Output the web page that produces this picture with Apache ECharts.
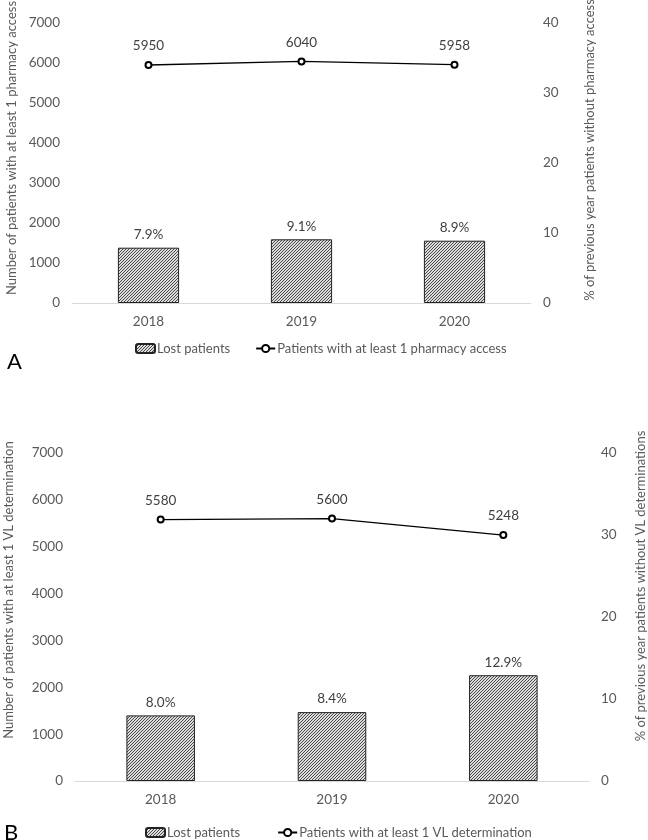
<!DOCTYPE html>
<html><head><meta charset="utf-8">
<script src="https://cdn.jsdelivr.net/npm/echarts@6/dist/echarts.min.js"></script>
<style>html,body{margin:0;padding:0;background:#fff}#c{width:648px;height:840px}</style>
</head><body><div id="c"></div>
<script>
const years = ['2018', '2019', '2020'];
const lostA = [7.9, 9.1, 8.9];
const pharmA = [5950, 6040, 5958];
const lostB = [8.0, 8.4, 12.9];
const vlB = [5580, 5600, 5248];
const leftTicks = [0, 7000, 1000];
const rightTicks = [0, 40, 10];
const nameLost = 'Lost patients';
const nameA = 'Patients with at least 1 pharmacy access';
const nameB = 'Patients with at least 1 VL determination';

function hatch() {
  const n = 3;
  const c = document.createElement('canvas');
  c.width = n; c.height = n;
  const g = c.getContext('2d');
  g.fillStyle = '#dcdcdc'; g.fillRect(0, 0, n, n);
  g.fillStyle = '#4a4a4a';
  for (let i = 0; i < n; i++) g.fillRect(i, n - 1 - i, 1, 1);
  return {image: c, repeat: 'repeat'};
}
const pat = hatch();
const FONT = 'Lato';
const TXT = '#595959';
const FS = 13.5;

function yLeft(gi) {
  return {type: 'value', gridIndex: gi, position: 'left', min: leftTicks[0], max: leftTicks[1], interval: leftTicks[2],
    axisLine: {show: false}, axisTick: {show: false}, splitLine: {show: false},
    axisLabel: {color: TXT, fontFamily: FONT, fontSize: FS, margin: 12, formatter: v => String(v)}};
}
function yRight(gi) {
  return {type: 'value', gridIndex: gi, position: 'right', min: rightTicks[0], max: rightTicks[1], interval: rightTicks[2],
    axisLine: {show: false}, axisTick: {show: false}, splitLine: {show: false},
    axisLabel: {color: TXT, fontFamily: FONT, fontSize: FS, margin: 12, formatter: v => String(v)}};
}
function xAx(gi) {
  return {type: 'category', gridIndex: gi, data: years,
    axisLine: {lineStyle: {color: '#d9d9d9', width: 1}}, axisTick: {show: false},
    axisLabel: {color: TXT, fontFamily: FONT, fontSize: FS, margin: 12}};
}
function barS(data, xi, yi) {
  return {name: nameLost, type: 'bar', xAxisIndex: xi, yAxisIndex: yi, data: data, barWidth: '40%',
    itemStyle: {color: pat, borderColor: '#222', borderWidth: 1},
    label: {show: true, position: 'top', distance: 6, color: '#404040', fontFamily: FONT, fontSize: FS,
      formatter: p => p.value.toFixed(1) + '%'}};
}
function lineS(name, data, xi, yi) {
  return {name: name, type: 'line', xAxisIndex: xi, yAxisIndex: yi, data: data,
    symbol: 'emptyCircle', symbolSize: 6, lineStyle: {color: '#000', width: 1.3},
    itemStyle: {color: '#000', borderColor: '#000', borderWidth: 1},
    label: {show: true, position: 'top', distance: 8, color: '#404040', fontFamily: FONT, fontSize: FS,
      formatter: p => String(p.value)}};
}
function vtext(x, y, t) {
  return {type: 'text', x: x, y: y, rotation: Math.PI / 2,
    style: {text: t, fill: TXT, font: '13px ' + FONT, textAlign: 'center', textVerticalAlign: 'middle'}};
}

const chart = echarts.init(document.getElementById('c'), null, {renderer: 'canvas'});
chart.setOption({
  animation: false,
  backgroundColor: '#fff',
  grid: [
    {left: 72, right: 117, top: 23, height: 280},
    {left: 75, right: 59, top: 453, height: 328}
  ],
  xAxis: [xAx(0), xAx(1)],
  yAxis: [yLeft(0), yRight(0), yLeft(1), yRight(1)],
  legend: [
    {left: 135, top: 342, padding: 0, itemWidth: 19, itemHeight: 9, itemGap: 25,
      textStyle: {color: TXT, fontFamily: FONT, fontSize: 13, padding: [0, 0, 0, -3]},
      data: [nameLost, nameA]},
    {left: 145, top: 826, padding: 0, itemWidth: 19, itemHeight: 9, itemGap: 37,
      textStyle: {color: TXT, fontFamily: FONT, fontSize: 13, padding: [0, 0, 0, -3]},
      data: [nameLost, nameB]}
  ],
  series: [
    barS(lostA, 0, 1),
    lineS(nameA, pharmA, 0, 0),
    barS(lostB, 1, 3),
    lineS(nameB, vlB, 1, 2)
  ],
  graphic: [
    vtext(12, 148, 'Number of patients with at least 1 pharmacy access'),
    vtext(590, 150, '% of previous year patients without pharmacy access'),
    vtext(9, 590, 'Number of patients with at least 1 VL determination'),
    vtext(641, 586, '% of previous year patients without VL determinations'),
    {type: 'text', x: 7, y: 351, style: {text: 'A', fill: '#000', font: '22px ' + FONT}},
    {type: 'text', x: 4, y: 822, style: {text: 'B', fill: '#000', font: '22px ' + FONT}}
  ]
});
</script></body></html>
